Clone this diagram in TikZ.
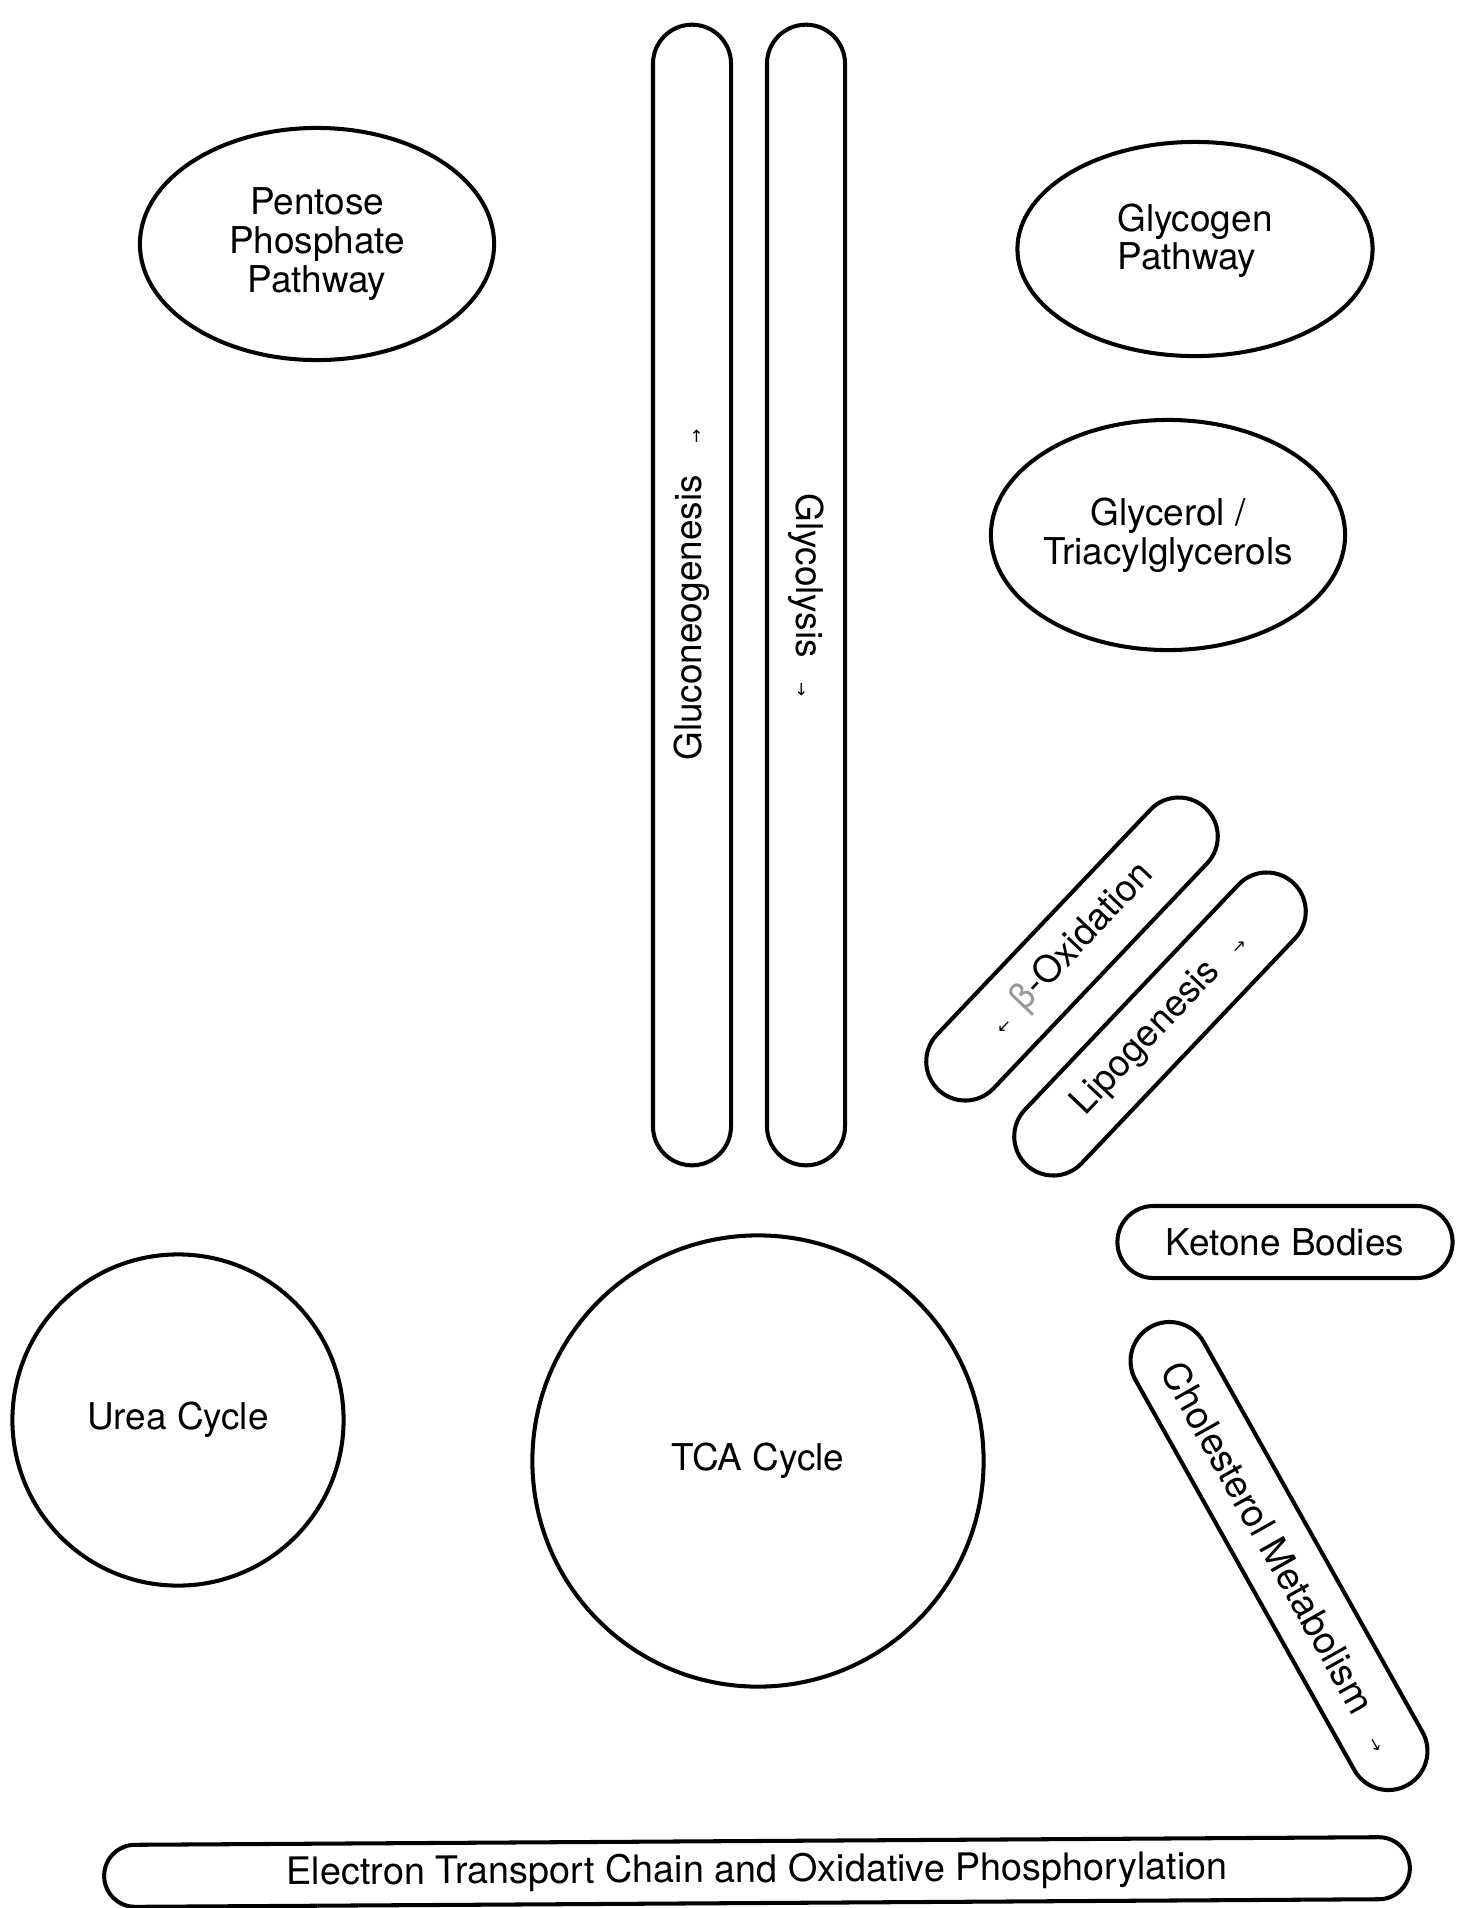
\documentclass[tikz,border=0pt]{standalone}
\usepackage{fontspec}
\setmainfont{TeX Gyre Heros}
\newfontfamily\arrowfont{DejaVu Sans}
\usetikzlibrary{shapes.geometric,shapes.misc}

% small direction arrow set inside the pathway labels
\newcommand\dirarrow[1]{{\arrowfont\fontsize{4.8}{5}\selectfont #1}}

\begin{document}
\begin{tikzpicture}[x=0.01cm,y=-0.01cm,
  every node/.style={font=\fontsize{10.5}{11}\selectfont, inner sep=0pt},
  outline/.style={draw=black, line width=1.15pt},
  oval/.style={outline, ellipse, align=center},
  ring/.style={outline, circle},
  pill/.style={outline, rounded rectangle, minimum height=0.78cm},
]
\useasboundingbox (0,0) rectangle (1463,1908);
\fill[white] (0,0) rectangle (1463,1908);

% upper pathways
\node[oval, minimum width=3.54cm, minimum height=2.32cm] (ppp) at (317,244)
  {Pentose\\Phosphate\\Pathway};
\node[oval, align=left, text depth=7pt, minimum width=3.55cm, minimum height=2.14cm] (glycogen) at (1195,249)
  {Glycogen\\Pathway};
\node[oval, minimum width=3.54cm, minimum height=2.30cm] (glycerol) at (1168,535)
  {Glycerol /\\Triacylglycerols};

% glucose axis
\node[pill, minimum width=11.40cm, rotate=90] (gng) at (692,595)
  {Gluconeogenesis\hspace{9pt}\dirarrow{→}};
\node[pill, minimum width=11.40cm, rotate=-90] (glycolysis) at (806,595)
  {Glycolysis\hspace{7pt}\dirarrow{→}};

% fatty acid pathways
\node[pill, minimum width=3.88cm, rotate=46.5] (betaox) at (1072,949)
  {\dirarrow{←}\hspace{5pt}{\color{black!40}β}-Oxidation};
\node[pill, minimum width=3.88cm, rotate=46.5] (lipo) at (1160,1024)
  {Lipogenesis\hspace{7pt}\dirarrow{→}};
\node[pill, minimum width=3.35cm, minimum height=0.72cm] (ketone) at (1285,1242)
  {Ketone Bodies};
\node[pill, minimum width=5.25cm, rotate=-60.7, font=\fontsize{10.8}{11}\selectfont] (chol) at (1279,1556)
  {Cholesterol Metabolism\hspace{8pt}\dirarrow{→}};

% cycles
\node[ring, minimum size=3.31cm] (urea) at (178,1420) {Urea Cycle};
\node[ring, minimum size=4.51cm] (tca) at (758,1461) {TCA Cycle};

% respiratory chain
\node[pill, minimum width=13.05cm, minimum height=0.62cm, rotate=0.35, font=\fontsize{10.75}{11}\selectfont] (etc) at (757,1872)
  {Electron Transport Chain and Oxidative Phosphorylation};
\end{tikzpicture}
\end{document}
